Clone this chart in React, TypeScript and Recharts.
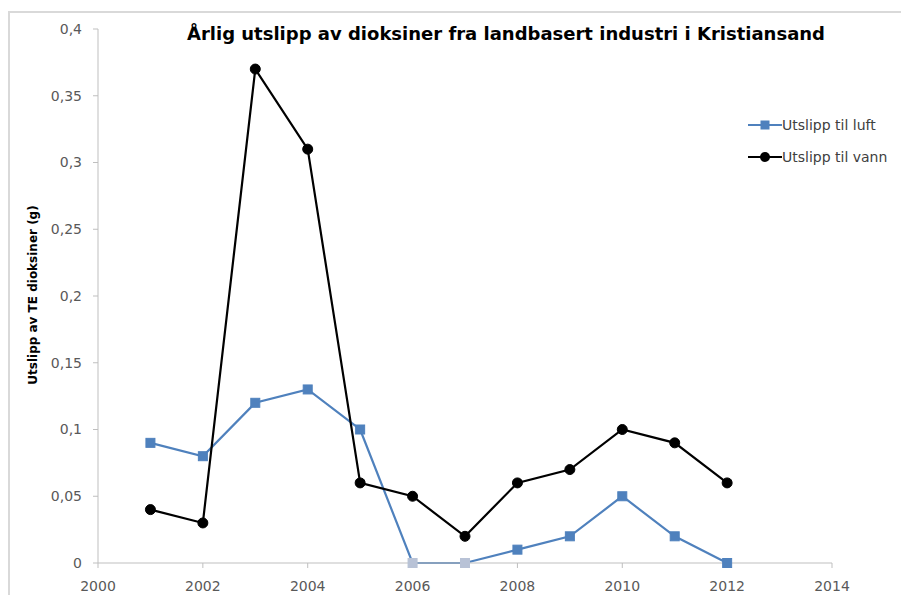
import React from 'react';
import { LineChart, Line, XAxis, YAxis } from 'recharts';

const years = [2001, 2002, 2003, 2004, 2005, 2006, 2007, 2008, 2009, 2010, 2011, 2012];
const utslippLuft = [0.09, 0.08, 0.12, 0.13, 0.1, 0, 0, 0.01, 0.02, 0.05, 0.02, 0];
const utslippVann = [0.04, 0.03, 0.37, 0.31, 0.06, 0.05, 0.02, 0.06, 0.07, 0.1, 0.09, 0.06];
const fadedLuftYears = [2006, 2007];
const xTicks = [2000, 2002, 2004, 2006, 2008, 2010, 2012, 2014];
const yTicks = [0, 0.05, 0.1, 0.15, 0.2, 0.25, 0.3, 0.35, 0.4];
const title = 'Årlig utslipp av dioksiner fra landbasert industri i Kristiansand';
const yLabel = 'Utslipp av TE dioksiner (g)';
const seriesNames = ['Utslipp til luft', 'Utslipp til vann'];

const data = years.map((y, i) => ({ year: y, luft: utslippLuft[i], vann: utslippVann[i] }));

const BLUE = '#4f81bd';
const FADED = '#b8c2d6';
const FONT = '"DejaVu Sans", sans-serif';

const SquareDot = (props: any) => {
  const { cx, cy, payload } = props;
  if (cx == null || cy == null) return null;
  const faded = fadedLuftYears.includes(payload.year);
  const c = faded ? FADED : BLUE;
  return <rect x={cx - 4.5} y={cy - 4.5} width={9} height={9} fill={c} stroke={c} />;
};

const CircleDot = (props: any) => {
  const { cx, cy } = props;
  if (cx == null || cy == null) return null;
  return <circle cx={cx} cy={cy} r={5} fill="#000" stroke="#000" />;
};

const LegendBox = () => (
  <div style={{ position: 'absolute', left: 748, top: 109, fontFamily: FONT, fontSize: 14, color: '#404040' }}>
    <div style={{ display: 'flex', alignItems: 'center', height: 32 }}>
      <svg width={34} height={12}>
        <line x1={0} y1={6} x2={34} y2={6} stroke={BLUE} strokeWidth={2} />
        <rect x={12.5} y={1.5} width={9} height={9} fill={BLUE} />
      </svg>
      <span style={{ marginLeft: 0 }}>{seriesNames[0]}</span>
    </div>
    <div style={{ display: 'flex', alignItems: 'center', height: 32 }}>
      <svg width={34} height={12}>
        <line x1={0} y1={6} x2={34} y2={6} stroke="#000" strokeWidth={2} />
        <circle cx={17} cy={6} r={5} fill="#000" />
      </svg>
      <span style={{ marginLeft: 0 }}>{seriesNames[1]}</span>
    </div>
  </div>
);

const fmtY = (v: number) => Number(v.toFixed(2)).toString().replace('.', ',');

export default function App() {
  return (
    <div style={{ position: 'absolute', left: 0, top: 0, width: 901, height: 595, background: '#fff', overflow: 'hidden' }}>
      <div
        style={{
          position: 'absolute',
          left: 8,
          top: 11,
          right: 0,
          bottom: 0,
          borderTop: '2px solid #d9d9d9',
          borderLeft: '2px solid #d9d9d9',
        }}
      />
      <div style={{ position: 'absolute', left: 0, top: 0 }}>
        <LineChart width={901} height={595} data={data} margin={{ top: 29, right: 69, bottom: 0, left: 10 }}>
          <text
            x={506}
            y={40}
            textAnchor="middle"
            style={{ fontFamily: FONT, fontWeight: 700, fontSize: 18, fill: '#000' }}
          >
            {title}
          </text>
          <text
            x={33}
            y={295}
            dy={4}
            textAnchor="middle"
            transform="rotate(-90 33 295)"
            style={{ fontFamily: FONT, fontWeight: 700, fontSize: 12, fill: '#000' }}
          >
            {yLabel}
          </text>
          <XAxis
            dataKey="year"
            type="number"
            domain={[2000, 2014]}
            ticks={xTicks}
            interval={0}
            stroke="#bfbfbf"
            tickSize={5}
            tickMargin={13}
            tick={{ fill: '#595959', fontSize: 14, fontFamily: FONT }}
            height={32}
          />
          <YAxis
            domain={[0, 0.4]}
            ticks={yTicks}
            interval={0}
            tickFormatter={fmtY}
            stroke="#bfbfbf"
            tickSize={5}
            tickMargin={11}
            tick={{ fill: '#595959', fontSize: 14, fontFamily: FONT }}
            width={88}
          />
          <Line
            dataKey="luft"
            name={seriesNames[0]}
            stroke={BLUE}
            strokeWidth={2.2}
            dot={<SquareDot />}
            activeDot={false}
            isAnimationActive={false}
          />
          <Line
            dataKey="vann"
            name={seriesNames[1]}
            stroke="#000"
            strokeWidth={2.2}
            dot={<CircleDot />}
            activeDot={false}
            isAnimationActive={false}
          />
        </LineChart>
      </div>
      <LegendBox />
    </div>
  );
}
